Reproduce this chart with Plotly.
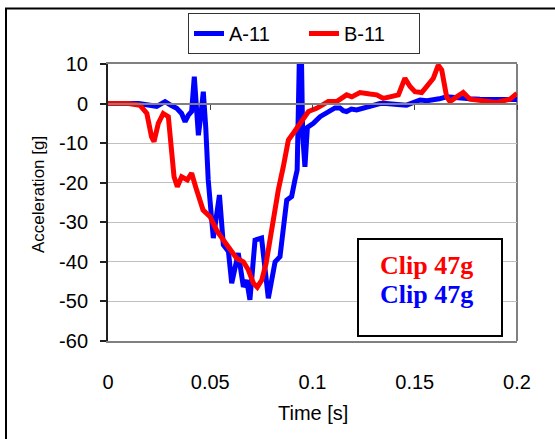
import plotly.graph_objects as go

# ---- data ----
t_a = [0, 0.010, 0.015, 0.0238, 0.0279, 0.031, 0.0336, 0.0360, 0.0377, 0.0393, 0.0409,
       0.0422, 0.0432, 0.0442, 0.0454, 0.0466, 0.0478, 0.0490, 0.0515, 0.0545, 0.0564,
       0.0589, 0.0605, 0.0637, 0.0662, 0.0678, 0.0694, 0.0719, 0.0751, 0.0784, 0.0817,
       0.0841, 0.0874, 0.0898, 0.0914, 0.0925, 0.0937, 0.0945, 0.0952, 0.0963, 0.0975,
       0.1004, 0.1037, 0.1086, 0.1110, 0.1134, 0.1150, 0.1167, 0.1190, 0.1216, 0.1240,
       0.1265, 0.1300, 0.1330, 0.1360, 0.1394, 0.1430, 0.1460, 0.1490, 0.1526, 0.1560,
       0.1590, 0.1620, 0.1656, 0.1690, 0.1721, 0.1770, 0.1819, 0.1870, 0.1917, 0.1960, 0.2]
acc_a = [0, 0, 0, -0.7, 0.5, -0.5, -1.2, -2.5, -4.6, -2.9, -2.0,
         6.8, 1.0, -8.0, -3.0, 3.0, -6.0, -19.3, -34.0, -23.1, -35.7,
         -37.4, -45.4, -37.8, -46.3, -44.6, -49.6, -34.5, -34.0, -49.2, -40.0,
         -38.7, -24.4, -23.5, -19.3, -16.8, 15.0, 15.0, -8.0, -16.0, -6.0,
         -5.0, -3.3, -1.6, -1.1, -1.1, -1.8, -2.0, -1.4, -1.6, -1.2,
         -0.8, -0.3, 0.0, 0.0, 0.0, -0.3, -0.4, 0.3, 0.9, 0.7,
         0.8, 1.2, 1.7, 1.5, 1.3, 1.2, 1.1, 1.0, 0.9, 1.0, 1.0]

t_b = [0, 0.010, 0.0156, 0.019, 0.0213, 0.0225, 0.0246, 0.027, 0.0295, 0.0311, 0.0323,
       0.0339, 0.036, 0.0388, 0.0409, 0.0433, 0.0450, 0.0465, 0.0499, 0.0531, 0.0564,
       0.0597, 0.0629, 0.0662, 0.0686, 0.0711, 0.0730, 0.0752, 0.0773, 0.0792, 0.0808,
       0.0833, 0.0857, 0.0882, 0.0906, 0.0939, 0.0980, 0.1020, 0.1069, 0.1077, 0.1118,
       0.1167, 0.1192, 0.1232, 0.1281, 0.1314, 0.1346, 0.1395, 0.1420, 0.1452, 0.1477,
       0.1501, 0.1534, 0.1558, 0.1591, 0.1615, 0.1632, 0.1656, 0.1672, 0.1705, 0.1737,
       0.1770, 0.1819, 0.1900, 0.1966, 0.2]
acc_b = [0, 0, -0.4, -2.5, -8.4, -9.6, -5.0, -2.5, -3.3, -11.7, -18.5,
         -21.0, -18.5, -19.3, -17.6, -21.8, -24.4, -26.9, -28.6, -32.0, -34.5,
         -37.0, -39.1, -40.0, -42.0, -45.4, -46.4, -44.6, -40.4, -34.5, -29.4,
         -21.8, -16.0, -9.2, -7.5, -5.0, -2.0, -1.2, 0.0, 0.5, 0.5,
         2.2, 1.7, 2.8, 2.4, 2.2, 1.3, 1.9, 2.2, 6.4, 4.3,
         3.0, 2.8, 4.3, 6.4, 9.7, 8.5, 1.7, 0.5, 1.7, 2.8,
         1.1, 0.7, 0.3, 1.1, 2.6]

series_names = ["A-11", "B-11"]
x_ticks = [0, 0.05, 0.1, 0.15, 0.2]
x_tick_text = ["0", "0.05", "0.1", "0.15", "0.2"]
y_ticks = [10, 0, -10, -20, -30, -40, -50, -60]
y_tick_text = ["10", "0", "-10", "-20", "-30", "-40", "-50", "-60"]
note_lines = ["Clip 47g", "Clip 47g"]

# ---- layout geometry ----
W, H = 555, 439
L, R, T, B = 108, 38, 64, 98
pw, ph = W - L - R, H - T - B


def px(x):
    return (x - L) / pw


def py(y):
    return (H - B - y) / ph


FONT = "Liberation Sans, Arial, sans-serif"
SERIF = "Liberation Serif, Times New Roman, serif"

fig = go.Figure()
fig.add_trace(go.Scatter(x=t_a, y=acc_a, mode="lines", name=series_names[0],
                         line=dict(color="#0000FF", width=5)))
fig.add_trace(go.Scatter(x=t_b, y=acc_b, mode="lines", name=series_names[1],
                         line=dict(color="#FF0000", width=5)))

yr = [-60, 10]
zero_pos = (0 - yr[0]) / (yr[1] - yr[0])

fig.update_layout(
    width=W, height=H,
    margin=dict(l=L, r=R, t=T, b=B, pad=0),
    paper_bgcolor="white", plot_bgcolor="white",
    font=dict(family=FONT, size=20, color="black"),
    showlegend=True,
    legend=dict(orientation="h", x=px(304), xanchor="center", y=py(13), yanchor="top",
                bordercolor="#333333", borderwidth=1, bgcolor="white",
                font=dict(family=FONT, size=20, color="black"),
                entrywidth=70, entrywidthmode="pixels"),
    xaxis=dict(range=[0, 0.2], tickvals=x_ticks, ticktext=x_tick_text,
               showgrid=False, zeroline=False, showline=True, linecolor="#808080",
               linewidth=2, mirror=True, ticks="", ticklabelstandoff=22,
               tickfont=dict(family=FONT, size=20, color="black")),
    xaxis2=dict(range=[0, 0.2], overlaying="x", anchor="free", position=zero_pos,
                side="bottom", showline=True, linecolor="#808080", linewidth=2,
                ticks="outside", ticklen=5, tickcolor="#404040", tickwidth=1,
                tickvals=x_ticks[1:], showticklabels=False, showgrid=False,
                zeroline=False),
    yaxis=dict(range=yr, tickvals=y_ticks, ticktext=y_tick_text, showgrid=True,
               gridcolor="#C0C0C0", gridwidth=1, zeroline=False, showline=True,
               linecolor="#202020", linewidth=2, ticks="outside", ticklen=6,
               tickcolor="#202020", tickwidth=1.5, ticklabelstandoff=8,
               tickfont=dict(family=FONT, size=20, color="black")),
)

# invisible trace to activate xaxis2 (zero line with ticks)
fig.add_trace(go.Scatter(x=[0], y=[0], xaxis="x2", mode="lines", showlegend=False,
                         hoverinfo="skip", line=dict(width=0)))

shapes = [
    # right plot border
    dict(type="line", xref="paper", yref="paper", x0=1, x1=1, y0=0, y1=1,
         line=dict(color="#808080", width=2), layer="below"),
    # outer chart frame
    dict(type="rect", xref="paper", yref="paper", x0=px(6), x1=1.3, y0=-0.7, y1=py(8.5),
         line=dict(color="black", width=2), layer="above"),
    # note box
    dict(type="rect", xref="paper", yref="paper", x0=px(358), x1=px(502),
         y0=py(336), y1=py(239), line=dict(color="black", width=2),
         fillcolor="white", layer="above"),
]
fig.update_layout(shapes=shapes)

annotations = [
    dict(text="Time [s]", xref="paper", yref="paper", x=px(312.5), y=py(413),
         xanchor="center", yanchor="middle", showarrow=False,
         font=dict(family=FONT, size=20, color="black")),
    dict(text="Acceleration [g]", xref="paper", yref="paper", x=px(39), y=py(195),
         xanchor="center", yanchor="middle", showarrow=False, textangle=-90,
         font=dict(family=FONT, size=17, color="black")),
    dict(text="<b>" + note_lines[0] + "</b>", xref="paper", yref="paper", x=px(426),
         y=py(265), xanchor="center", yanchor="middle", showarrow=False,
         font=dict(family=SERIF, size=26, color="#FF0000")),
    dict(text="<b>" + note_lines[1] + "</b>", xref="paper", yref="paper", x=px(426),
         y=py(294), xanchor="center", yanchor="middle", showarrow=False,
         font=dict(family=SERIF, size=26, color="#0000FF")),
]
fig.update_layout(annotations=annotations)

fig.write_html("out.html")
